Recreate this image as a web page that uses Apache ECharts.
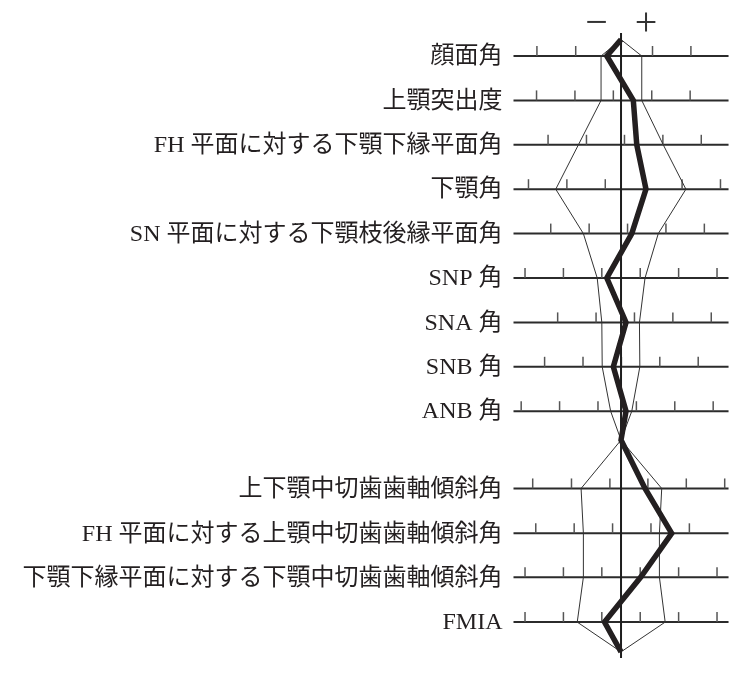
<!DOCTYPE html>
<html>
<head>
<meta charset="utf-8">
<script src="https://cdn.jsdelivr.net/npm/echarts@6/dist/echarts.min.js"></script>
<style>
html,body{margin:0;padding:0;background:#fff;}
#chart{width:741px;height:673px;}
</style>
</head>
<body>
<div id="chart"></div>
<script>
// ---- data (x: offset from the mean in tick-interval units; y: row position) ----
const labels = [
  '顔面角',
  '上顎突出度',
  'FH 平面に対する下顎下縁平面角',
  '下顎角',
  'SN 平面に対する下顎枝後縁平面角',
  'SNP 角',
  'SNA 角',
  'SNB 角',
  'ANB 角',
  '上下顎中切歯歯軸傾斜角',
  'FH 平面に対する上顎中切歯歯軸傾斜角',
  '下顎下縁平面に対する下顎中切歯歯軸傾斜角',
  'FMIA'
];
const rowY = [0, 1, 2, 3, 4, 5, 6, 7, 8, 9.74, 10.75, 11.74, 12.75];
const tickPositions = [
  [-2.19, -1.18, 0.82, 1.82],
  [-2.2, -1.2, -0.2, 0.8, 1.8],
  [-1.9, -0.9, 0.09, 1.09, 2.09],
  [-2.41, -1.41, -0.41, 0.59, 1.59, 2.59],
  [-1.83, -0.83, 0.17, 1.17, 2.17],
  [-2.5, -1.5, -0.5, 0.5, 1.5, 2.5],
  [-1.65, -0.65, 0.35, 1.35, 2.35],
  [-1.99, -0.99, 0.01, 1.01, 2.01],
  [-2.6, -1.6, -0.6, 0.4, 1.4, 2.4],
  [-2.3, -1.29, -0.29, 0.7, 1.7, 2.7],
  [-2.22, -1.22, -0.22, 0.78, 1.78],
  [-2.5, -1.5, -0.5, 0.5, 1.5, 2.5],
  [-2.5, -1.5, -0.5, 0.5, 1.5, 2.5]
];
const sdLow  = [-0.52, -0.52, -1.11, -1.70, -0.98, -0.62, -0.50, -0.49, -0.27, -1.04, -0.98, -0.98, -1.14];
const sdHigh = [ 0.54,  0.54,  1.10,  1.69,  0.97,  0.625, 0.48,  0.49,  0.28,  1.06,  1.00,  1.00,  1.15];
const patient = [-0.37, 0.32, 0.41, 0.65, 0.28, -0.37, 0.13, -0.20, 0.13, 0.625, 1.32, 0.51, -0.43];
const apexTop = -0.37, apexMid = 8.65, apexBottom = 13.42;
const centerLineY = [-0.52, 13.56];
const signLabels = ['−', '+'];
const signX = [-0.64, 0.65];
const signY = -0.71;
const X_MIN = -2.8, X_MAX = 2.8;

// ---- build polylines ----
function profile(values) {
  const pts = [[0, apexTop]];
  for (let i = 0; i < 9; i++) pts.push([values[i], rowY[i]]);
  pts.push([0, apexMid]);
  for (let i = 9; i < rowY.length; i++) pts.push([values[i], rowY[i]]);
  pts.push([0, apexBottom]);
  return pts;
}
const tickData = [];
tickPositions.forEach((arr, i) => arr.forEach(x => tickData.push([x, rowY[i]])));

const FONT_LABEL = '24px "Liberation Serif", "Noto Sans CJK JP", serif';
const chart = echarts.init(document.getElementById('chart'));
chart.setOption({
  animation: false,
  backgroundColor: '#ffffff',
  grid: { left: 513.5, width: 215.04, top: 11.6, height: 657.12 },
  xAxis: { type: 'value', min: X_MIN, max: X_MAX, show: false },
  yAxis: { type: 'value', min: -1, max: 13.8, inverse: true, show: false },
  series: [
    {
      type: 'custom', z: 1,
      data: rowY.map(y => [X_MIN, y]),
      renderItem(params, api) {
        const y = api.value(1);
        const p1 = api.coord([X_MIN, y]);
        const p2 = api.coord([X_MAX, y]);
        return {
          type: 'group',
          children: [
            { type: 'line', shape: { x1: p1[0], y1: p1[1], x2: p2[0], y2: p2[1] },
              style: { stroke: '#2b2b2b', lineWidth: 2 } },
            { type: 'text',
              style: { text: labels[params.dataIndex], x: p1[0] - 11, y: p1[1] + 1,
                       align: 'right', verticalAlign: 'middle', font: FONT_LABEL, fill: '#231f20' } }
          ]
        };
      }
    },
    {
      type: 'custom', z: 1,
      data: tickData,
      renderItem(params, api) {
        const p = api.coord([api.value(0), api.value(1)]);
        return { type: 'line', shape: { x1: p[0], y1: p[1], x2: p[0], y2: p[1] - 10 },
                 style: { stroke: '#555', lineWidth: 1.5 } };
      }
    },
    {
      type: 'custom', z: 1,
      data: signX.map(x => [x, signY]),
      renderItem(params, api) {
        const p = api.coord([api.value(0), api.value(1)]);
        return { type: 'text',
                 style: { text: signLabels[params.dataIndex], x: p[0], y: p[1],
                          align: 'center', verticalAlign: 'middle',
                          font: '40px "Liberation Serif", serif', fill: '#333' } };
      }
    },
    {
      type: 'line', z: 2, symbol: 'none', silent: true,
      data: profile(sdLow),
      lineStyle: { color: '#333', width: 1 }
    },
    {
      type: 'line', z: 2, symbol: 'none', silent: true,
      data: profile(sdHigh),
      lineStyle: { color: '#333', width: 1 }
    },
    {
      type: 'line', z: 3, symbol: 'none', silent: true,
      data: [[0, centerLineY[0]], [0, centerLineY[1]]],
      lineStyle: { color: '#1e1e1e', width: 2 }
    },
    {
      type: 'line', z: 4, symbol: 'none', silent: true,
      data: profile(patient),
      lineStyle: { color: '#231f20', width: 5.5, join: 'miter', miterLimit: 10 }
    }
  ]
});
</script>
</body>
</html>
